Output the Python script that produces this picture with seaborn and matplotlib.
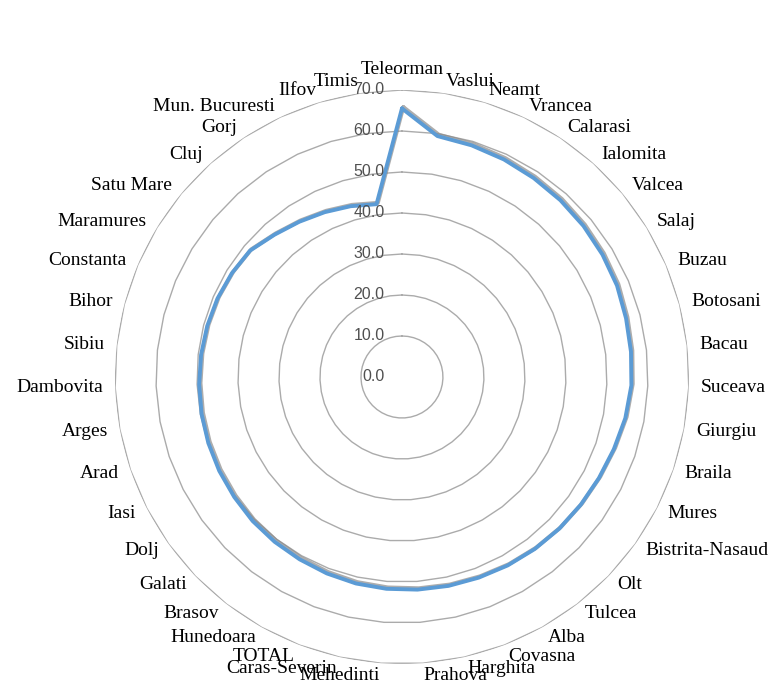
import matplotlib
matplotlib.use("Agg")
import matplotlib.pyplot as plt
import matplotlib.patheffects as pe
import numpy as np
import pandas as pd
import seaborn as sns

# counties in clockwise order starting at the top
counties = [
    "Teleorman", "Vaslui", "Neamt", "Vrancea", "Calarasi", "Ialomita", "Valcea",
    "Salaj", "Buzau", "Botosani", "Bacau", "Suceava", "Giurgiu", "Braila", "Mures",
    "Bistrita-Nasaud", "Olt", "Tulcea", "Alba", "Covasna", "Harghita", "Prahova",
    "Mehedinti", "Caras-Severin", "TOTAL", "Hunedoara", "Brasov", "Galati", "Dolj",
    "Iasi", "Arad", "Arges", "Dambovita", "Sibiu", "Bihor", "Constanta", "Maramures",
    "Satu Mare", "Cluj", "Gorj", "Mun. Bucuresti", "Ilfov", "Timis",
]
rates = [
    65.5, 59.4, 59.0, 58.6, 58.2, 57.9, 57.6,
    57.3, 57.0, 56.5, 56.2, 56.0, 55.4, 54.6, 54.0,
    53.6, 53.3, 53.0, 52.7, 52.4, 52.2, 52.0,
    51.8, 51.6, 51.3, 51.0, 50.8, 50.6, 50.3,
    50.1, 49.9, 49.7, 49.5, 49.3, 49.1, 48.9, 48.6,
    48.2, 46.6, 45.4, 44.4, 43.5, 42.6,
]
ring_values = [0, 10, 20, 30, 40, 50, 60, 70]
ring_labels = [f"{v:.1f}" for v in ring_values]

sns.set_style("white")
plt.rcParams["font.family"] = ["Liberation Serif", "DejaVu Serif"]

n = len(counties)
theta = np.arange(n) * 2 * np.pi / n
theta_closed = np.append(theta, 2 * np.pi)
df = pd.DataFrame({"theta": theta_closed, "rate": rates + rates[:1]})

fig = plt.figure(figsize=(7.69, 6.88), dpi=100)
ax = fig.add_axes([0.1495, 0.0349, 0.7464, 0.8343], projection="polar")
ax.set_theta_zero_location("N")
ax.set_theta_direction(-1)

# excel style polygon rings
for v in ring_values[1:]:
    ax.plot(theta_closed, np.full(n + 1, v), color="#ABABAB", lw=1.0, zorder=1)

sns.lineplot(data=df, x="theta", y="rate", ax=ax, sort=False, color="#5B9BD5",
             lw=2.8, zorder=3,
             path_effects=[pe.SimpleLineShadow(offset=(1.0, 1.0), shadow_color="#8a8a8a", alpha=0.7),
                           pe.Normal()])

ax.set_ylim(0, 70)
ax.set_xticks([])
ax.set_yticks([])
ax.grid(False)
ax.spines["polar"].set_visible(False)
ax.set_xlabel("")
ax.set_ylabel("")

# category labels around the outer ring
for t, name in zip(theta, counties):
    s, c = np.sin(t), np.cos(t)
    if abs(s) < 1e-9:
        ha, va = "center", "bottom"
    else:
        ha = "left" if s > 0 else "right"
        va = "center"
    ax.annotate(name, xy=(t, 70), xytext=(8.6 * s, 8.6 * c), textcoords="offset points",
                ha=ha, va=va, fontsize=14, color="black", annotation_clip=False)

# value axis labels
for v, lab in zip(ring_values, ring_labels):
    ax.annotate(lab, xy=(0, v), xytext=(-12.5, 0), textcoords="offset points",
                ha="right", va="center", fontsize=11.5, color="#505050",
                family=["Liberation Sans", "DejaVu Sans"], annotation_clip=False)

fig.savefig("out.png", dpi=100)
